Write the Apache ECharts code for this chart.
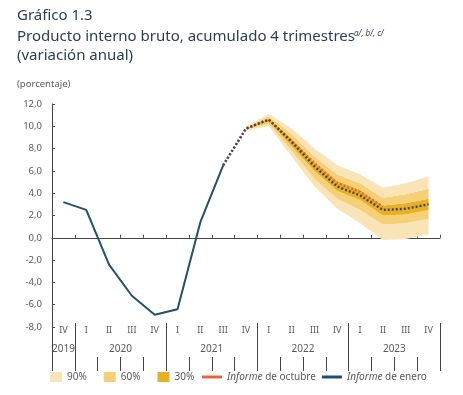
<!DOCTYPE html>
<html><head><meta charset="utf-8">
<script src="https://cdn.jsdelivr.net/npm/echarts@6/dist/echarts.min.js"></script>
<style>html,body{margin:0;padding:0;background:#fff}#c{width:463px;height:395px}</style>
</head><body><div id="c"></div>
<script>
// ---- data ----
var quarters = ['IV','I','II','III','IV','I','II','III','IV','I','II','III','IV','I','II','III','IV'];
var years = ['2019','2020','2021','2022','2023'];
var yearCenters = [0.5, 3, 7, 11, 15];
var yearBounds = [1, 5, 9, 13, 17];
var eneroObs = [3.2, 2.5, -2.4, -5.2, -6.9, -6.4, 1.4, 6.5, null, null, null, null, null, null, null, null, null];
var eneroProj = [null, null, null, null, null, null, null, 6.5, 9.8, 10.6, 8.6, 6.4, 4.6, 3.8, 2.5, 2.6, 3.0];
var octubre = [null, null, null, null, null, null, null, 6.5, 9.8, 10.6, 8.7, 6.7, 4.9, 4.1, 2.8, null, null];
var lo90 = [null, null, null, null, null, null, null, null, 9.6, 10.0, 7.3, 4.6, 2.6, 1.3, -0.2, -0.1, 0.3];
var lo60 = [null, null, null, null, null, null, null, null, 9.7, 10.2, 7.8, 5.3, 3.5, 2.5, 1.2, 1.3, 1.7];
var lo30 = [null, null, null, null, null, null, null, null, 9.75, 10.4, 8.2, 6.0, 4.2, 3.4, 2.0, 2.1, 2.5];
var hi30 = [null, null, null, null, null, null, null, null, 9.85, 10.7, 8.9, 6.8, 5.1, 4.3, 2.9, 3.1, 3.5];
var hi60 = [null, null, null, null, null, null, null, null, 9.9, 10.9, 9.3, 7.3, 5.7, 4.9, 3.6, 3.9, 4.4];
var hi90 = [null, null, null, null, null, null, null, null, 10.0, 11.1, 9.8, 8.0, 6.5, 5.7, 4.5, 4.9, 5.5];

// ---- build ----
function diff(a, b) { return a.map(function (v, i) { return (v == null || b[i] == null) ? '-' : +(v - b[i]).toFixed(3); }); }
function dash(a) { return a.map(function (v) { return v == null ? '-' : v; }); }
var C90 = '#f9e4b8', C60 = '#f5d076', C30 = '#e9b024';
var gray = '#595959';
var FONT = 'Noto Sans';
var TITLE = '#2b3d52';

function band(name, data, color) {
  return { name: name, type: 'line', stack: 'fan', stackStrategy: 'all', data: data, symbol: 'none',
    lineStyle: { width: 0, opacity: 0 }, itemStyle: { color: color }, areaStyle: { color: color, opacity: 1 },
    silent: true, z: 1 };
}

var chart = echarts.init(document.getElementById('c'), null, { renderer: 'canvas' });
chart.setOption({
  animation: false,
  textStyle: { fontFamily: FONT },
  graphic: [
    { type: 'text', left: 17, top: 8, style: { text: 'Gráfico 1.3', fontFamily: FONT, fontSize: 15, fill: TITLE } },
    { type: 'text', left: 17, top: 29, style: { text: 'Producto interno bruto, acumulado 4 trimestres', fontFamily: FONT, fontSize: 15, fill: TITLE } },
    { type: 'text', left: 354, top: 30, style: { text: 'a/, b/, c/', fontFamily: FONT, fontSize: 8, fontStyle: 'italic', fill: TITLE } },
    { type: 'text', left: 17, top: 48, style: { text: '(variación anual)', fontFamily: FONT, fontSize: 15, fill: TITLE } },
    { type: 'text', left: 17, top: 79, style: { text: '(porcentaje)', fontFamily: FONT, fontSize: 9.5, fill: gray } }
  ],
  legend: [
    { left: 50, top: 372, padding: 0, itemWidth: 12, itemHeight: 10, itemGap: 17, icon: 'rect',
      data: ['90%', '60%', '30%'], selectedMode: false,
      textStyle: { fontFamily: FONT, fontSize: 10, color: gray } },
    { left: 202, top: 372, padding: 0, itemWidth: 20, itemHeight: 3, itemGap: 6, icon: 'rect',
      data: ['Informe de octubre', 'Informe de enero'], selectedMode: false,
      formatter: function (n) { return n.replace('Informe', '{i|Informe}'); },
      textStyle: { fontFamily: FONT, fontSize: 10, color: gray,
        rich: { i: { fontFamily: FONT, fontSize: 10, color: gray, fontStyle: 'italic' } } } }
  ],
  grid: [
    { left: 52, right: 23, top: 104, height: 223 },
    { left: 52, right: 23, top: 323, height: 34 }
  ],
  xAxis: [
    { type: 'category', gridIndex: 0, data: quarters, boundaryGap: true,
      axisLine: { onZero: true, lineStyle: { color: '#444', width: 1 } },
      axisTick: { show: true, inside: true, length: 3, lineStyle: { color: '#444' } },
      axisLabel: { show: false }, splitLine: { show: false } },
    { type: 'category', gridIndex: 1, position: 'top', data: quarters, boundaryGap: true,
      axisLine: { show: false },
      axisTick: { show: true, inside: true, length: 14, lineStyle: { color: '#444' } },
      axisLabel: { show: true, inside: true, margin: 3, fontFamily: FONT, fontSize: 9, color: gray },
      splitLine: { show: false } },
    { type: 'value', gridIndex: 1, position: 'bottom', min: 0, max: 17,
      axisLine: { show: false },
      axisTick: { show: true, inside: true, length: 34, customValues: yearBounds, lineStyle: { color: '#444' } },
      axisLabel: { show: true, inside: true, margin: 3, fontFamily: FONT, fontSize: 10, color: gray,
        customValues: yearCenters,
        formatter: function (v) { var i = yearCenters.indexOf(v); return i >= 0 ? years[i] : ''; } },
      splitLine: { show: false } }
  ],
  yAxis: [
    { type: 'value', gridIndex: 0, min: -8, max: 12, interval: 2,
      axisLine: { show: true, lineStyle: { color: '#444' } },
      axisTick: { show: true, inside: true, length: 3, lineStyle: { color: '#444' } },
      axisLabel: { margin: 10, fontFamily: FONT, fontSize: 9.5, color: gray,
        formatter: function (v) { return v.toFixed(1).replace('.', ','); } },
      splitLine: { show: false } },
    { type: 'value', gridIndex: 1, min: 0, max: 1,
      axisLine: { show: true, lineStyle: { color: '#444' } },
      axisTick: { show: false }, axisLabel: { show: false }, splitLine: { show: false } }
  ],
  series: [
    { name: 'base', type: 'line', stack: 'fan', stackStrategy: 'all', data: dash(lo90), symbol: 'none',
      lineStyle: { width: 0, opacity: 0 }, silent: true, z: 1 },
    band('90%', diff(lo60, lo90), C90),
    band('60%', diff(lo30, lo60), C60),
    band('30%', diff(hi30, lo30), C30),
    band('60%', diff(hi60, hi30), C60),
    band('90%', diff(hi90, hi60), C90),
    { name: 'Informe de octubre', type: 'line', data: dash(octubre), symbol: 'none', z: 3,
      itemStyle: { color: '#e8643a' },
      lineStyle: { color: '#e8643a', width: 2.4, type: [2, 2] } },
    { name: 'Informe de enero', type: 'line', data: dash(eneroObs), symbol: 'none', z: 4,
      itemStyle: { color: '#22506f' },
      lineStyle: { color: '#22506f', width: 2 } },
    { name: 'enero_proy', type: 'line', data: dash(eneroProj), symbol: 'none', z: 4,
      itemStyle: { color: '#3b4756' },
      lineStyle: { color: '#3b4756', width: 2.4, type: [2, 2] } }
  ]
});
</script></body></html>
